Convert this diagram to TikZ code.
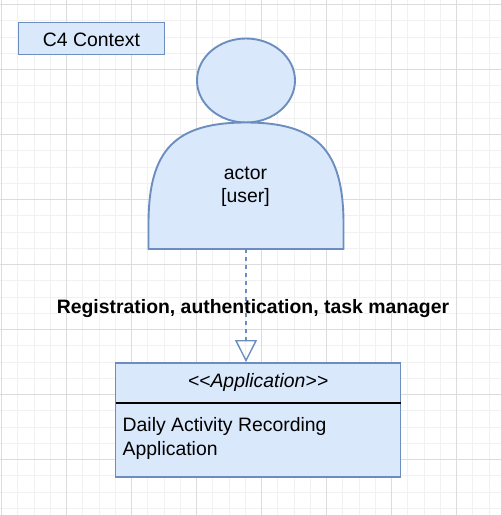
\documentclass[tikz,border=0pt]{standalone}
\usepackage{fontspec}
\setmainfont{Liberation Sans}
\usetikzlibrary{arrows.meta}
\definecolor{fillb}{HTML}{DAE8FC}
\definecolor{edge}{HTML}{6C8EBF}
\definecolor{gridmin}{HTML}{F1F1F1}
\definecolor{gridmaj}{HTML}{DCDCDC}
\tikzset{
  x=1pt,y=-1pt,
  shapeb/.style={draw=edge,fill=fillb,line width=1.9pt},
  txt/.style={inner sep=0pt,font=\fontsize{19.4}{23.4}\selectfont,align=center},
}
\begin{document}
\begin{tikzpicture}
\useasboundingbox (0,0) rectangle (501,515);
\fill[white] (0,0) rectangle (501,515);
\clip (0,0) rectangle (501,515);
\foreach \i in {0,...,31}{
  \draw[gridmin,line width=0.9pt] ({1.5+16.25*\i},0) -- ({1.5+16.25*\i},515);
  \draw[gridmin,line width=0.9pt] (0,{4.5+16.25*\i}) -- (501,{4.5+16.25*\i});
}
\foreach \i in {0,...,7}{
  \draw[gridmaj,line width=0.9pt] ({1.5+65*\i},0) -- ({1.5+65*\i},515);
  \draw[gridmaj,line width=0.9pt] (0,{4.5+65*\i}) -- (501,{4.5+65*\i});
}
% title box
\node[shapeb,minimum width=146pt,minimum height=32pt,inner sep=0pt,anchor=center] (title) at (91.5,38.5) {};
\node[txt] (titlelabel) at (91.5,39.5) {C4 Context};
% actor
\draw[shapeb] (246,80.5) ellipse [x radius=49,y radius=42];
\path[shapeb] (148.5,249) -- (148.5,222) .. controls (149,150) and (175,122.5) .. (246,122.5) .. controls (317,122.5) and (343,150) .. (343.5,222) -- (343.5,249) -- cycle;
\node[minimum width=195pt,minimum height=127pt,inner sep=0pt] (actor) at (246,185.5) {};
\node[txt] (actorlabel) at (245.5,186.5) {actor\\{[user]}};
% application box
\node[shapeb,minimum width=285pt,minimum height=114pt,inner sep=0pt] (app) at (258,420) {};
\draw[black,line width=1.2pt] (115.5,403) -- (400.5,403);
\node[txt,font=\fontsize{19.4}{23.4}\selectfont\itshape] (stereo) at (258,382.5) {<{}<Application>{}>};
\node[txt,anchor=north west,align=left] (applabel) at (122.5,417.5) {Daily Activity Recording\\Application};
% connector
\draw[edge,line width=1.4pt,dash pattern=on 4pt off 4pt,-{Triangle[open,length=22pt,width=22pt,fill=none]}] (actor.south) -- (actor.south |- app.north);
\node[inner sep=0pt,font=\fontsize{19.4}{23.4}\selectfont\bfseries] (conn) at (253,308.5) {Registration, authentication, task manager};
\end{tikzpicture}
\end{document}
